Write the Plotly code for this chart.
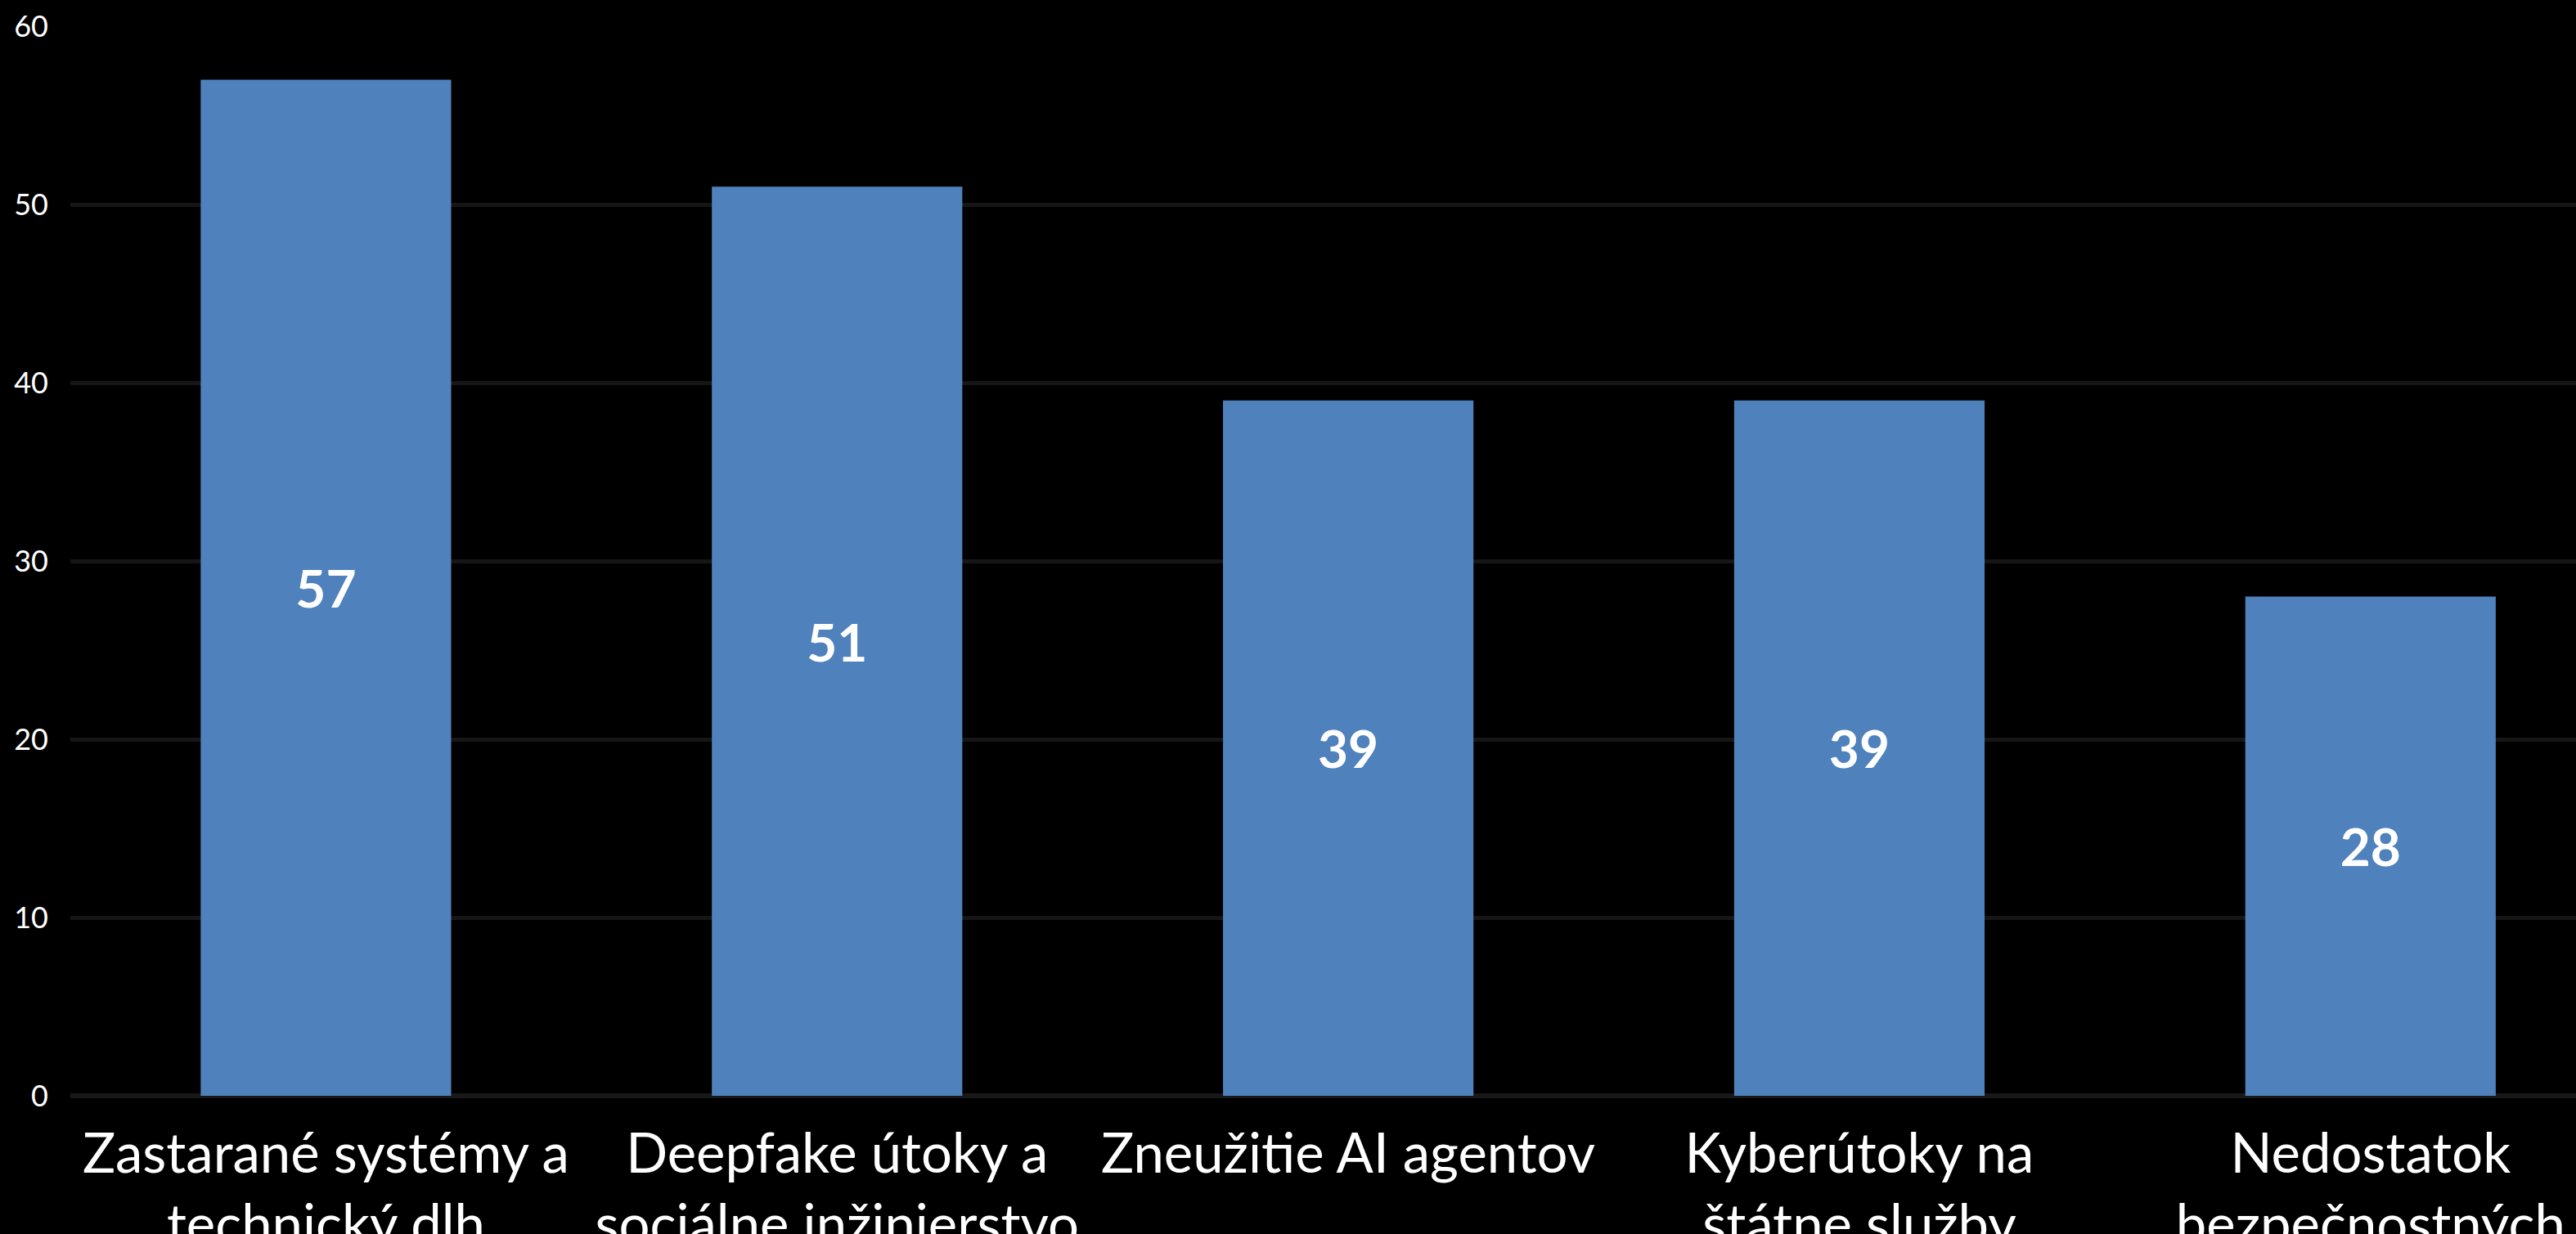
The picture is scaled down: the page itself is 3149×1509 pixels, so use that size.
import plotly.graph_objects as go

categories = [
    "Zastarané systémy a<br>technický dlh",
    "Deepfake útoky a<br>sociálne inžinierstvo",
    "Zneužitie AI agentov",
    "Kyberútoky na<br>štátne služby",
    "Nedostatok<br>bezpečnostných<br>odborníkov",
]
values = [57, 51, 39, 39, 28]
y_ticks = [0, 10, 20, 30, 40, 50, 60]

W, H = 3149, 1509
BAR = "rgb(79,129,189)"
FONT = "Lato, Open Sans, sans-serif"

fig = go.Figure(
    go.Bar(
        x=list(range(len(categories))),
        y=values,
        text=[str(v) for v in values],
        textposition="inside",
        insidetextanchor="middle",
        textangle=0,
        textfont=dict(family=FONT, size=64, color="white", weight="bold"),
        marker=dict(color=BAR, line=dict(width=0)),
        width=0.49,
        cliponaxis=False,
    )
)

fig.update_layout(
    width=W,
    height=H,
    paper_bgcolor="black",
    plot_bgcolor="black",
    margin=dict(l=86, r=0, t=32, b=169, autoexpand=False),
    showlegend=False,
    bargap=0.51,
)

fig.update_xaxes(
    tickmode="array",
    tickvals=list(range(len(categories))),
    ticktext=categories,
    range=[-0.5, 4.402],
    showgrid=False,
    zeroline=False,
    showline=False,
    ticks="",
    automargin=False,
    tickfont=dict(family=FONT, size=67, color="white"),
    ticklabelstandoff=26,
)

fig.update_yaxes(
    range=[0, 60],
    tickmode="array",
    tickvals=y_ticks,
    ticktext=[str(t) for t in y_ticks],
    showgrid=True,
    gridcolor="rgb(22,22,22)",
    gridwidth=5,
    zeroline=True,
    zerolinecolor="rgb(24,24,24)",
    zerolinewidth=6,
    showline=False,
    ticks="",
    automargin=False,
    tickfont=dict(family=FONT, size=36, color="white"),
    ticklabelstandoff=26,
)

fig.write_html(
    "out.html",
    config={"displayModeBar": False},
    post_script="document.body.style.margin='0';document.body.style.background='black';document.documentElement.style.background='black';",
)
